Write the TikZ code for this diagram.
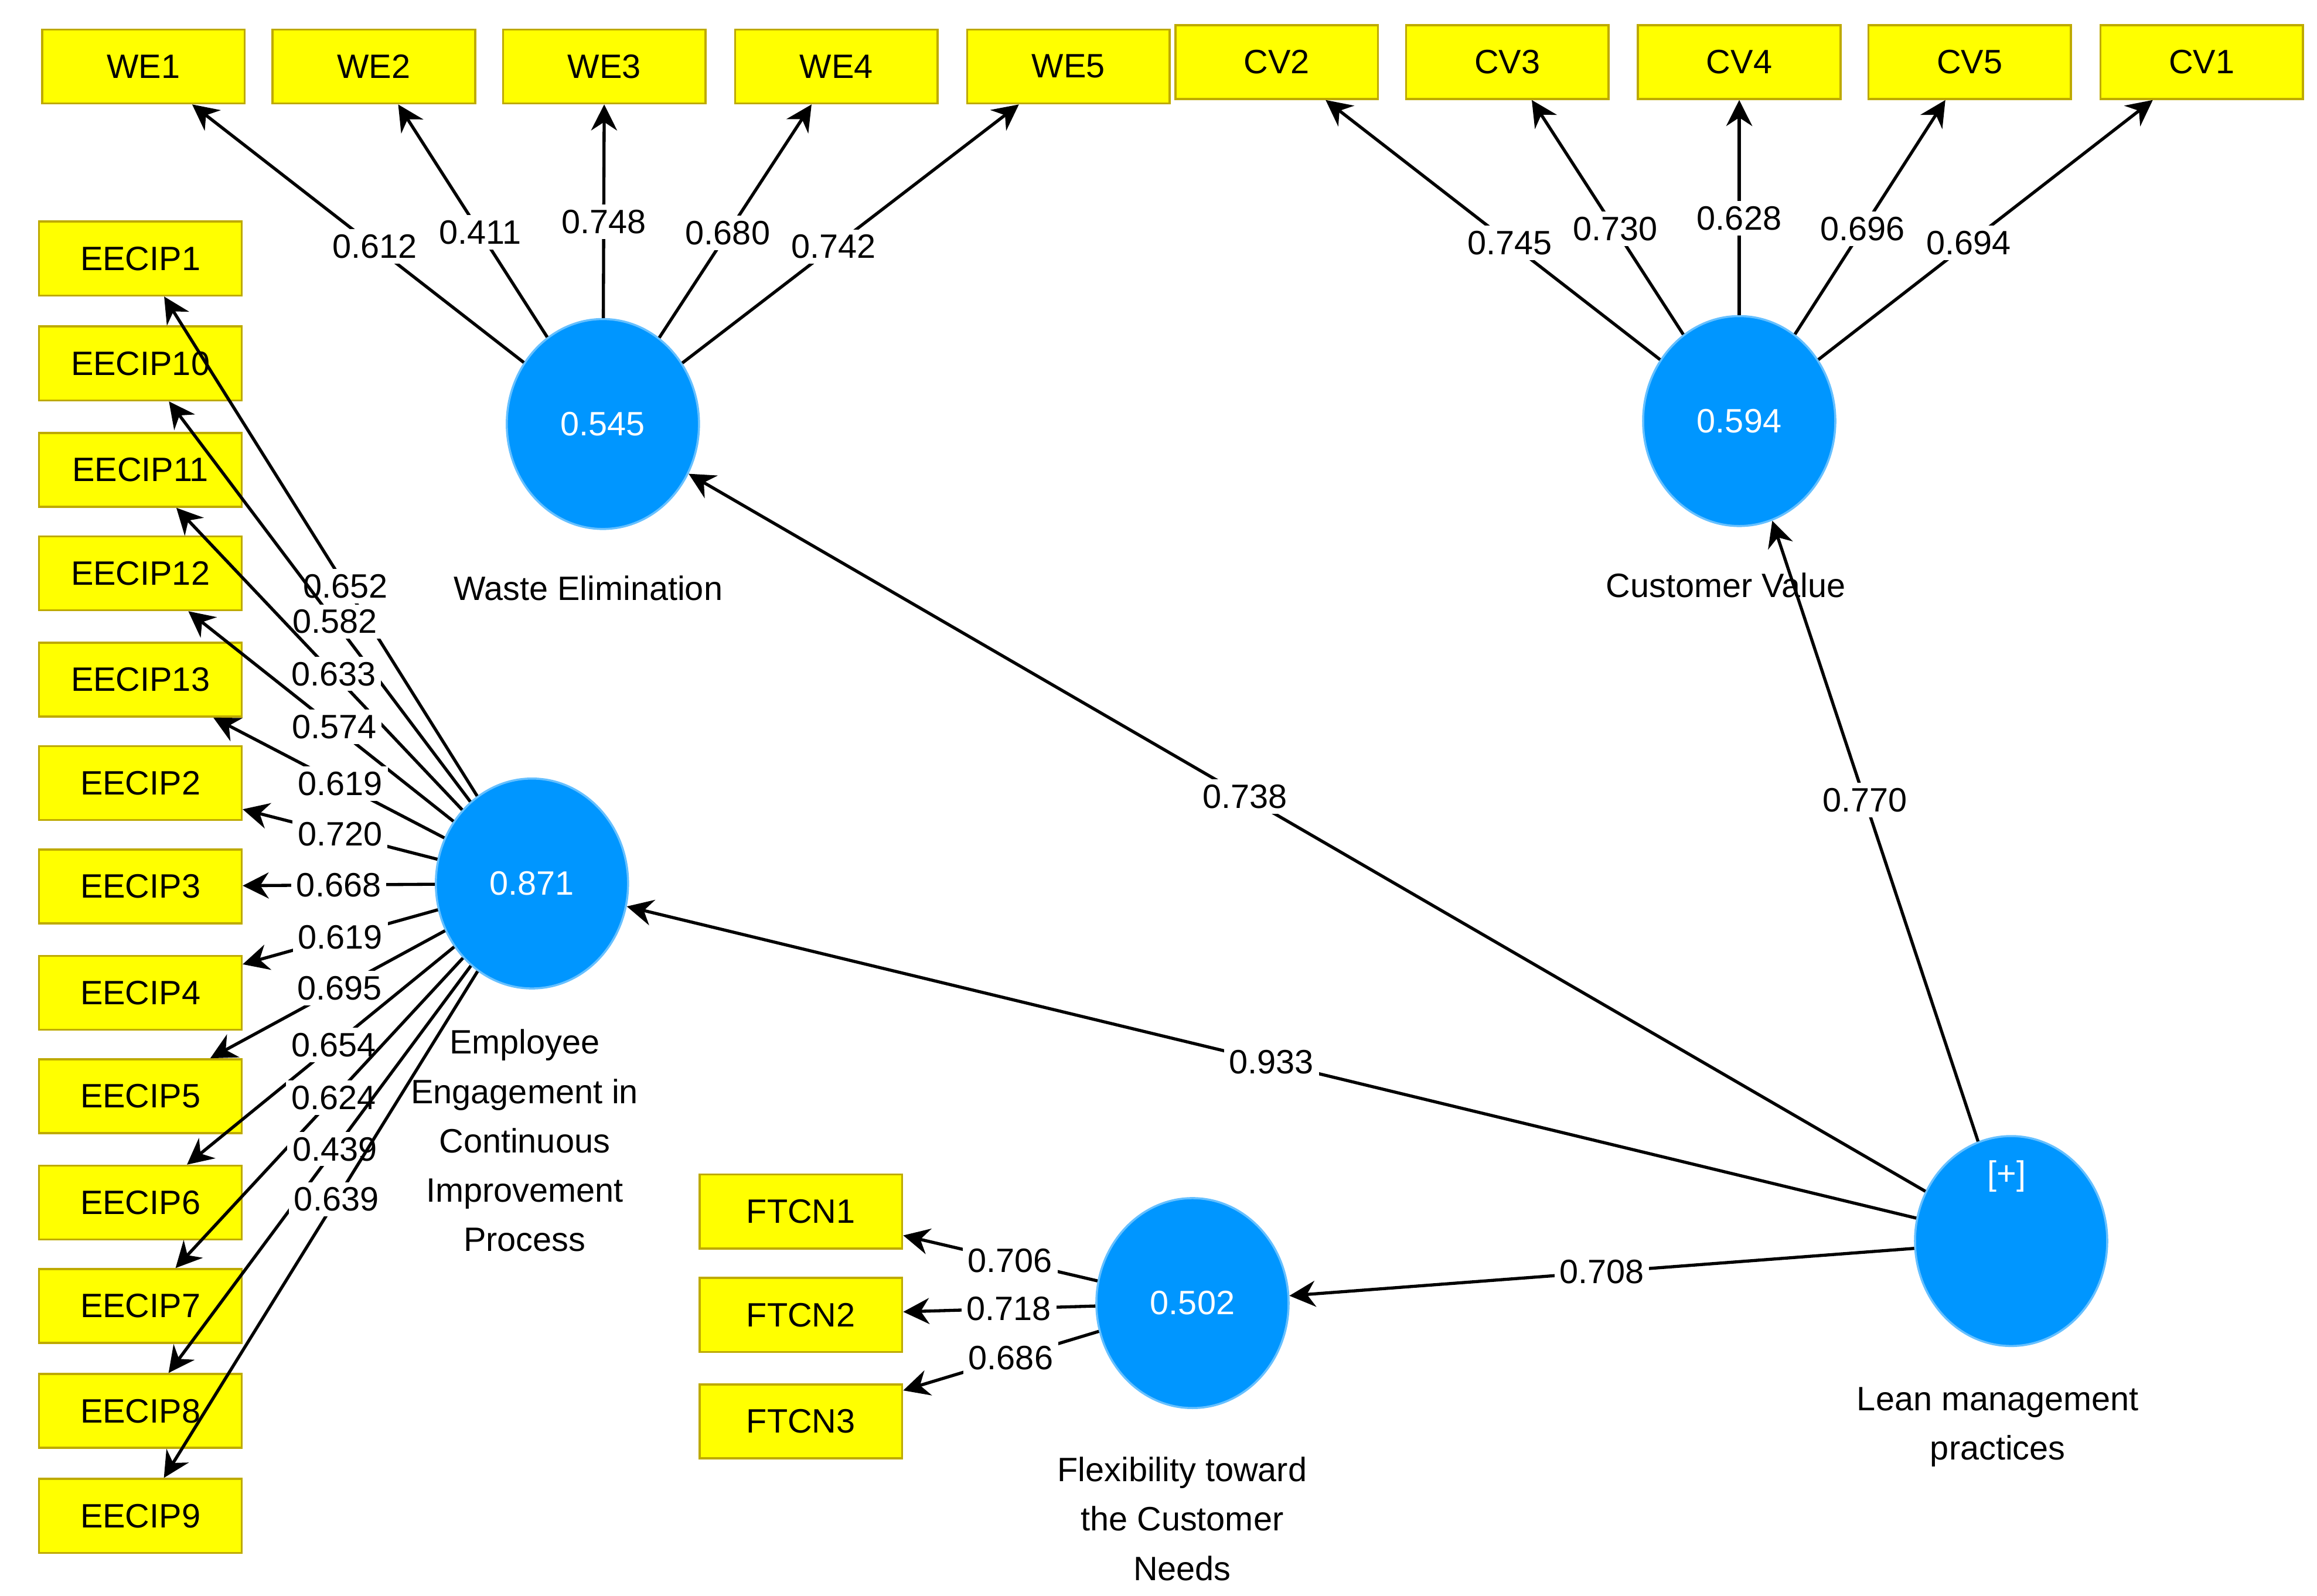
\documentclass[tikz,border=0pt]{standalone}
\usepackage{fontspec}
\setmainfont{Liberation Sans}
\usetikzlibrary{shapes.geometric, arrows.meta, positioning}
\definecolor{boxyellow}{RGB}{255,255,0}
\definecolor{boxedge}{RGB}{190,170,0}
\definecolor{lvblue}{RGB}{0,150,255}
\tikzset{
    indicator/.style={rectangle, draw=boxedge, fill=boxyellow, minimum width=1.37cm, minimum height=0.5cm, font=\fontsize{6.5}{7}\selectfont},
    construct/.style={ellipse, draw=lvblue!60!white, fill=lvblue, minimum width=1.3cm, minimum height=1.42cm, text=white, font=\fontsize{6.5}{7}\selectfont},
    caption/.style={align=center, font=\fontsize{6.5}{9.5}\selectfont},
    arrow/.style={-{Stealth[length=5pt,width=5pt]}, semithick},
    weight/.style={fill=white, inner sep=1pt, font=\fontsize{6.5}{7}\selectfont}
}
\begin{document}
\begin{tikzpicture}[x=0.01cm, y=-0.01cm]
            \useasboundingbox (0,0) rectangle (1568,1080);
            % constructs
            \node (we) [construct] at (408,287) {0.545};
            \node (cv) [construct] at (1177,285) {0.594};
            \node (eec) [construct] at (360,598) {0.871};
            \node (ftc) [construct] at (807,882) {0.502};
            \node (lmp) [construct] at (1361,840) {};
            \node at (1358,796) [text=white, font=\fontsize{6.5}{7}\selectfont] {[+]};
            \node [caption] at (398,398) {Waste Elimination};
            \node [caption] at (1168,396) {Customer Value};
            \node [caption] at (355,772) {Employee\\Engagement in\\Continuous\\Improvement\\Process};
            \node [caption] at (800,1028) {Flexibility toward\\the Customer\\Needs};
            \node [caption] at (1352,966) {Lean management\\practices};
            % indicators
            \node (we1) [indicator] at (97,45) {WE1};
            \node (we2) [indicator] at (253,45) {WE2};
            \node (we3) [indicator] at (409,45) {WE3};
            \node (we4) [indicator] at (566,45) {WE4};
            \node (we5) [indicator] at (723,45) {WE5};
            \node (cv2) [indicator] at (864,42) {CV2};
            \node (cv3) [indicator] at (1020,42) {CV3};
            \node (cv4) [indicator] at (1177,42) {CV4};
            \node (cv5) [indicator] at (1333,42) {CV5};
            \node (cv1) [indicator] at (1490,42) {CV1};
            \node (e1) [indicator] at (95,175) {EECIP1};
            \node (e10) [indicator] at (95,246) {EECIP10};
            \node (e11) [indicator] at (95,318) {EECIP11};
            \node (e12) [indicator] at (95,388) {EECIP12};
            \node (e13) [indicator] at (95,460) {EECIP13};
            \node (e2) [indicator] at (95,530) {EECIP2};
            \node (e3) [indicator] at (95,600) {EECIP3};
            \node (e4) [indicator] at (95,672) {EECIP4};
            \node (e5) [indicator] at (95,742) {EECIP5};
            \node (e6) [indicator] at (95,814) {EECIP6};
            \node (e7) [indicator] at (95,884) {EECIP7};
            \node (e8) [indicator] at (95,955) {EECIP8};
            \node (e9) [indicator] at (95,1026) {EECIP9};
            \node (f1) [indicator] at (542,820) {FTCN1};
            \node (f2) [indicator] at (542,890) {FTCN2};
            \node (f3) [indicator] at (542,962) {FTCN3};

            \draw[arrow] (we) -- node[weight, pos=0.45] {0.612} (we1);
            \draw[arrow] (we) -- node[weight, pos=0.45] {0.411} (we2);
            \draw[arrow] (we) -- node[weight, pos=0.45] {0.748} (we3);
            \draw[arrow] (we) -- node[weight, pos=0.45] {0.680} (we4);
            \draw[arrow] (we) -- node[weight, pos=0.45] {0.742} (we5);
            \draw[arrow] (cv) -- node[weight, pos=0.45] {0.745} (cv2);
            \draw[arrow] (cv) -- node[weight, pos=0.45] {0.730} (cv3);
            \draw[arrow] (cv) -- node[weight, pos=0.45] {0.628} (cv4);
            \draw[arrow] (cv) -- node[weight, pos=0.45] {0.696} (cv5);
            \draw[arrow] (cv) -- node[weight, pos=0.45] {0.694} (cv1);
            \draw[arrow] (eec) -- node[weight, pos=0.42] {0.652} (e1);
            \draw[arrow] (eec) -- node[weight, pos=0.45] {0.582} (e10);
            \draw[arrow] (eec) -- node[weight, pos=0.45] {0.633} (e11);
            \draw[arrow] (eec) -- node[weight, pos=0.45] {0.574} (e12);
            \draw[arrow] (eec) -- node[weight, pos=0.45] {0.619} (e13);
            \draw[arrow] (eec) -- node[weight, pos=0.5] {0.720} (e2);
            \draw[arrow] (eec) -- node[weight, pos=0.5] {0.668} (e3);
            \draw[arrow] (eec) -- node[weight, pos=0.5] {0.619} (e4);
            \draw[arrow] (eec) -- node[weight, pos=0.45] {0.695} (e5);
            \draw[arrow] (eec) -- node[weight, pos=0.45] {0.654} (e6);
            \draw[arrow] (eec) -- node[weight, pos=0.45] {0.624} (e7);
            \draw[arrow] (eec) -- node[weight, pos=0.45] {0.439} (e8);
            \draw[arrow] (eec) -- node[weight, pos=0.45] {0.639} (e9);
            \draw[arrow] (ftc) -- node[weight, pos=0.45] {0.706} (f1);
            \draw[arrow] (ftc) -- node[weight, pos=0.45] {0.718} (f2);
            \draw[arrow] (ftc) -- node[weight, pos=0.45] {0.686} (f3);

            \draw[arrow] (lmp) -- node[weight, pos=0.55] {0.738} (we);
            \draw[arrow] (lmp) -- node[weight, pos=0.55] {0.770} (cv);
            \draw[arrow] (lmp) -- node[weight, pos=0.5] {0.933} (eec);
            \draw[arrow] (lmp) -- node[weight, pos=0.5] {0.708} (ftc);
        \end{tikzpicture}
\end{document}
